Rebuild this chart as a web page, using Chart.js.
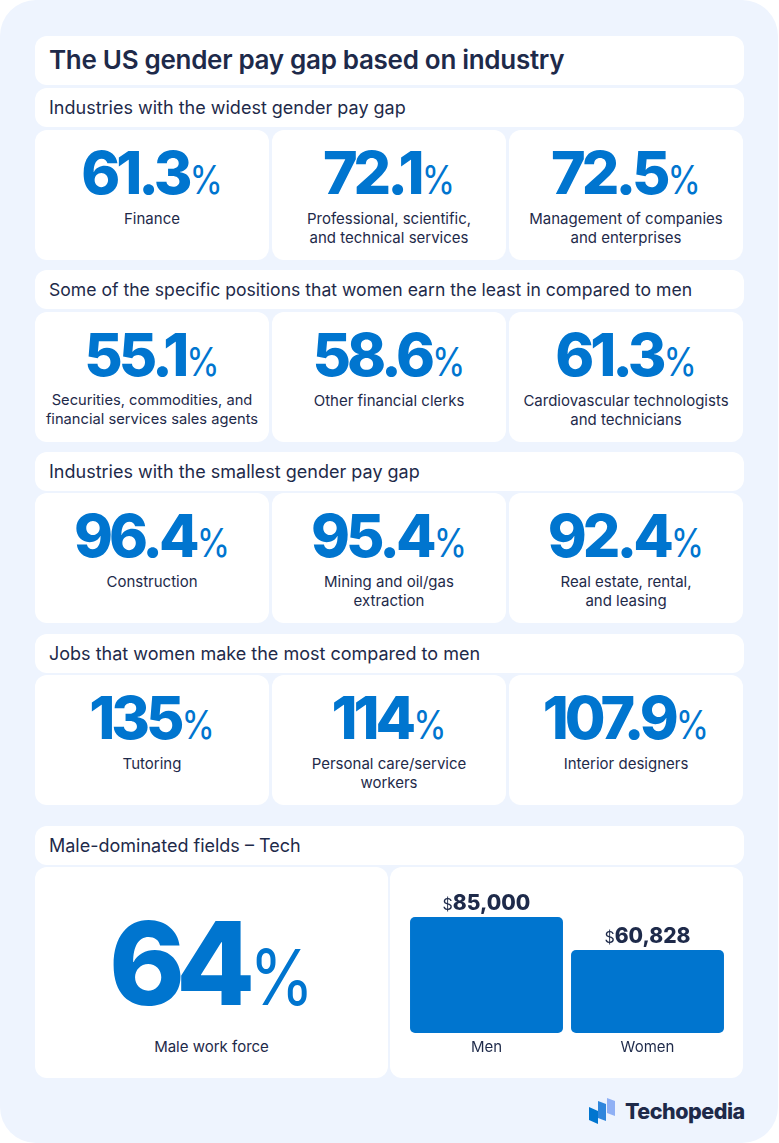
<!DOCTYPE html>
<html><head><meta charset="utf-8">
<script src="https://cdn.jsdelivr.net/npm/chart.js@4"></script>
<style>
html,body{margin:0;padding:0;background:#fff;width:779px;height:1143px;overflow:hidden;font-family:Inter,sans-serif;color:#1e2a4a}
#bg{position:absolute;left:0;top:0;width:778px;height:1143px;background:#eef4fe;border-radius:36px}
.c{position:absolute;background:#fff;border-radius:12px}
.h{font-size:18px;line-height:39px;padding-left:14px;box-sizing:border-box;white-space:nowrap}
.t{font-size:26px;font-weight:600;line-height:47px;padding-left:14px;box-sizing:border-box;letter-spacing:-.3px}
.n{position:absolute;left:0;right:0;top:8px;text-align:center;line-height:70px;font-size:59px;font-weight:800;color:#0075cf;letter-spacing:-4px;white-space:nowrap}
.n span,#big span{display:inline-block;line-height:1;transform:scaleY(1.17);transform-origin:50% 86.4%}
.n span{font-size:34px;font-weight:400;letter-spacing:0;margin-left:1px}
.l{position:absolute;left:0;right:0;top:79px;text-align:center;font-size:15px;line-height:19px;white-space:pre-line}
#big{position:absolute;left:0;right:0;top:27px;text-align:center;font-size:115px;line-height:140px;font-weight:800;color:#0075cf;letter-spacing:-9px}
#big span{font-size:66px;font-weight:400;letter-spacing:0;margin-left:3px}
#bl{position:absolute;left:0;right:0;top:170px;text-align:center;font-size:15px;line-height:20px}
#chartbox{position:absolute;left:390px;top:867px;width:353px;height:211px}
#brand{position:absolute;left:625px;top:1097px;font-size:21.5px;line-height:28px;font-weight:800;letter-spacing:-.5px;font-family:Inter,sans-serif}
svg{position:absolute;left:589px;top:1096px}
</style></head><body>
<div id="bg"></div>
<div class="c t" style="left:35px;top:36px;width:709px;height:49px">The US gender pay gap based on industry</div>
<div id="tiles"></div>
<div class="c" style="left:35px;top:867px;width:353px;height:211px"><div id="big"></div><div id="bl"></div></div>
<div class="c" style="left:390px;top:867px;width:353px;height:211px"></div>
<div id="chartbox"><canvas id="chart" width="353" height="211"></canvas></div>
<svg width="28" height="30" viewBox="0 0 28 30"><path d="M18 2l8 3v15l-8-3z" fill="#8fb0f5"/><path d="M8 6l8 3v17l-8-3z" fill="#2f86dc" transform="translate(1,-1)"/><path d="M0 11l9 4v13l-9-4z" fill="#0075cf"/></svg>
<div id="brand">Techopedia</div>
<script>
const title = "The US gender pay gap based on industry";
const sectionTitles = ["Industries with the widest gender pay gap","Some of the specific positions that women earn the least in compared to men","Industries with the smallest gender pay gap","Jobs that women make the most compared to men"];
const widestValues = ["61.3","72.1","72.5"];
const widestLabels = ["Finance","Professional, scientific,\nand technical services","Management of companies\nand enterprises"];
const leastValues = ["55.1","58.6","61.3"];
const leastLabels = ["Securities, commodities, and\nfinancial services sales agents","Other financial clerks","Cardiovascular technologists\nand technicians"];
const smallestValues = ["96.4","95.4","92.4"];
const smallestLabels = ["Construction","Mining and oil/gas\nextraction","Real estate, rental,\nand leasing"];
const mostValues = ["135","114","107.9"];
const mostLabels = ["Tutoring","Personal care/service\nworkers","Interior designers"];
const techTitle = "Male-dominated fields – Tech";
const techShare = "64";
const techShareLabel = "Male work force";
const payCategories = ["Men","Women"];
const payValues = [85000,60828];

const tiles = document.getElementById('tiles');
function add(cls,style,html){const d=document.createElement('div');d.className=cls;d.style.cssText=style;d.innerHTML=html;tiles.appendChild(d);return d;}
const rows=[[88,130,widestValues,widestLabels,18],[270,312,leastValues,leastLabels,17.6],[452,493,smallestValues,smallestLabels,18],[634,675,mostValues,mostLabels,18]];
const xs=[35,272,509];
rows.forEach((r,i)=>{
  add('c h',`left:35px;top:${r[0]}px;width:709px;height:39px;font-size:${r[4]}px`,sectionTitles[i]);
  r[2].forEach((v,j)=>{
    const d=add('c',`left:${xs[j]}px;top:${r[1]}px;width:234px;height:130px`,'');
    d.innerHTML=`<div class="n">${v}<span>%</span></div>`;
    const l=document.createElement('div');l.className='l';l.textContent=r[3][j];
    if(i===1&&j===0) l.style.fontSize='14.7px';
    d.appendChild(l);
  });
});
add('c h','left:35px;top:826px;width:709px;height:39px',techTitle);
document.getElementById('big').innerHTML=techShare+'<span>%</span>';
document.getElementById('bl').textContent=techShareLabel;

const valueLabels={id:'valueLabels',afterDatasetsDraw(c){
  const ctx=c.ctx,m=c.getDatasetMeta(0);
  m.data.forEach((b,i)=>{
    const num=payValues[i].toLocaleString('en-US');
    ctx.save();ctx.textBaseline='alphabetic';ctx.textAlign='left';
    ctx.font='400 16px Inter';const dw=ctx.measureText('$').width;
    ctx.font='800 21px Inter';const nw=ctx.measureText(num).width;
    const x0=b.x-(dw+nw)/2,y=b.y-7;
    ctx.fillStyle='#1e2a4a';
    ctx.font='400 16px Inter';ctx.fillText('$',x0,y);
    ctx.font='800 21px Inter';ctx.fillText(num,x0+dw,y);
    ctx.restore();
  });
}};
new Chart(document.getElementById('chart'),{
  type:'bar',
  data:{labels:payCategories,datasets:[{data:payValues,backgroundColor:'#0075cf',borderRadius:5,borderSkipped:false,barPercentage:.95,categoryPercentage:1}]},
  options:{responsive:false,animation:false,devicePixelRatio:1,
    layout:{padding:{left:16,right:15,top:16,bottom:25}},
    plugins:{legend:{display:false},tooltip:{enabled:false}},
    scales:{
      y:{display:false,min:0,max:110000},
      x:{grid:{display:false},border:{display:false},ticks:{color:'#1e2a4a',font:{family:'Inter',size:15},padding:-3}}
    }},
  plugins:[valueLabels]
});
</script>
</body></html>
